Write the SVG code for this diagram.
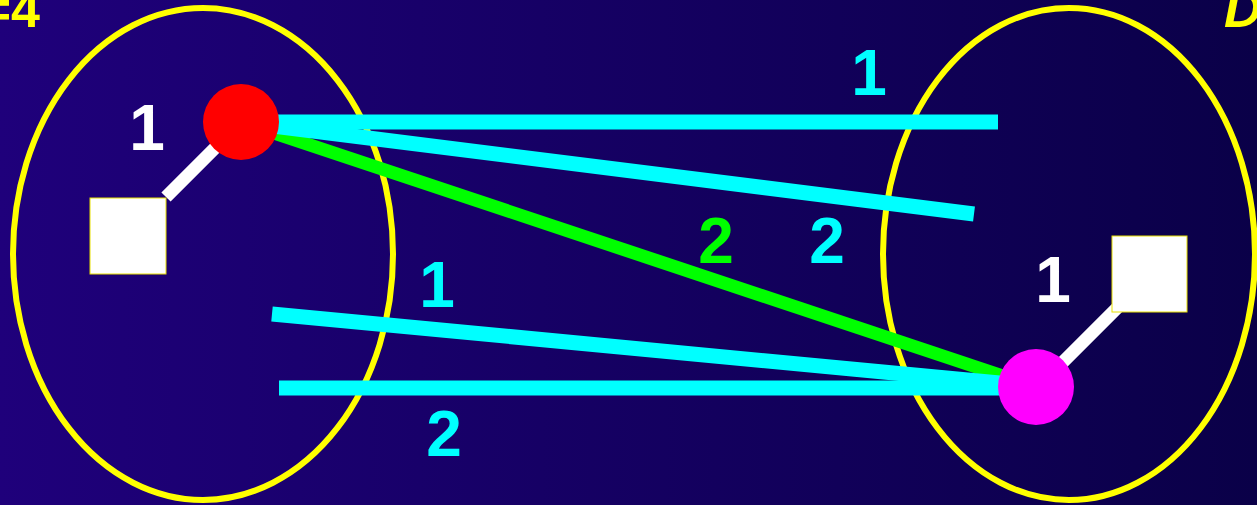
<svg xmlns="http://www.w3.org/2000/svg" width="1257" height="505" viewBox="0 0 1257 505">
  <defs>
    <linearGradient id="bg" x1="0" y1="0" x2="1" y2="0">
      <stop offset="0" stop-color="#1f007b"/>
      <stop offset="1" stop-color="#0a0048"/>
    </linearGradient>
  </defs>
  <style>
    .set { fill: none; stroke: #ffff00; stroke-width: 6; }
    .cyan { stroke: #00ffff; stroke-width: 15; fill: none; }
    .green { stroke: #00ff00; stroke-width: 13; fill: none; }
    .link { stroke: #ffffff; stroke-width: 13; }
    .sq { fill: #ffffff; stroke: #e8e000; stroke-width: 1; }
    .lbl { font-family: "Liberation Sans", Arial, sans-serif; font-weight: bold; font-size: 64px; text-anchor: middle; }
    .corner { font-family: "Liberation Sans", Arial, sans-serif; font-weight: bold; font-size: 52px; fill: #ffff00; }
  </style>
  <rect x="0" y="0" width="1257" height="505" fill="url(#bg)"/>

  <g id="set-left"><ellipse class="set" cx="203" cy="254" rx="190" ry="246"/></g>
  <g id="set-right"><ellipse class="set" cx="1069" cy="254" rx="186" ry="246"/></g>

  <g id="connectors">
    <line class="green" x1="241" y1="122" x2="1036" y2="387"/>
    <line class="cyan" x1="241" y1="122" x2="998" y2="122"/>
    <line class="cyan" x1="241" y1="122" x2="974" y2="214"/>
    <line class="cyan" x1="272" y1="314" x2="1010" y2="384"/>
    <line class="cyan" x1="279" y1="388" x2="1010" y2="388"/>
    <line class="link" x1="166" y1="197" x2="225" y2="138"/>
    <line class="link" x1="1050" y1="375" x2="1124" y2="301"/>
  </g>

  <g id="square-left"><rect class="sq" x="90" y="198" width="76" height="76"/></g>
  <g id="square-right"><rect class="sq" x="1112" y="236" width="75" height="76"/></g>
  <g id="node-red"><circle cx="241" cy="122" r="38" fill="#ff0000"/></g>
  <g id="node-magenta"><circle cx="1036" cy="387" r="38" fill="#ff00ff"/></g>

  <g id="labels">
    <text class="lbl" x="869" y="95" fill="#00ffff">1</text>
    <text class="lbl" x="716" y="263" fill="#00ff00">2</text>
    <text class="lbl" x="827" y="263" fill="#00ffff">2</text>
    <text class="lbl" x="437" y="307" fill="#00ffff">1</text>
    <text class="lbl" x="444" y="456" fill="#00ffff">2</text>
    <text class="lbl" x="147" y="150" fill="#ffffff">1</text>
    <text class="lbl" x="1053" y="302" fill="#ffffff">1</text>
  </g>
  <g id="corner-texts">
    <text class="corner" x="40" y="27" text-anchor="end">=4</text>
    <text class="corner" x="1224" y="27" font-style="italic">D</text>
  </g>
</svg>
